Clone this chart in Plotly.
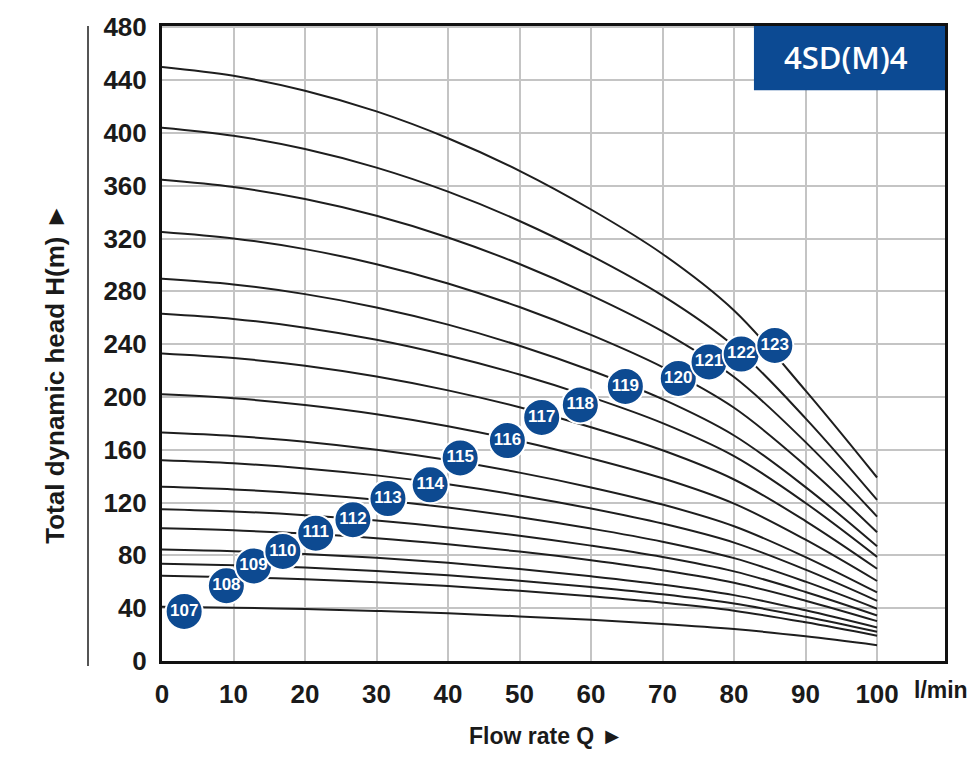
import plotly.graph_objects as go

# ---------------- data ----------------
flow = [0, 10, 20, 30, 40, 50, 60, 70, 80, 90, 100]

curve_names = ["107", "108", "109", "110", "111", "112", "113", "114", "115",
               "116", "117", "118", "119", "120", "121", "122", "123"]

head_107 = [41, 40.4, 39.4, 37.9, 36.1, 33.8, 31.2, 28.1, 24.2, 18.7, 12.0]
head_108 = [64.5, 63.5, 61.9, 59.7, 56.8, 53.2, 49.0, 44.2, 38.1, 29.3, 19.2]
head_109 = [73.7, 72.6, 70.8, 68.2, 64.9, 60.8, 56.0, 50.5, 43.5, 33.5, 22.1]
head_110 = [84.5, 83.2, 81.1, 78.2, 74.4, 69.7, 64.2, 57.9, 49.9, 38.4, 25.4]
head_111 = [100.5, 99.0, 96.5, 93.0, 88.4, 82.9, 76.4, 68.8, 59.3, 45.7, 30.2]
head_112 = [115, 113.3, 110.4, 106.4, 101.2, 94.9, 87.4, 78.8, 67.9, 52.3, 34.5]
head_113 = [132, 130.0, 126.7, 122.1, 116.2, 108.9, 100.3, 90.4, 77.9, 60.1, 39.6]
head_114 = [152, 149.7, 145.9, 140.6, 133.8, 125.4, 115.5, 104.1, 89.7, 69.2, 45.6]
head_115 = [173, 170.4, 166.1, 160.0, 152.2, 142.7, 131.5, 118.5, 102.1, 78.7, 51.9]
head_116 = [202, 199.0, 193.9, 186.9, 177.8, 166.7, 153.5, 138.4, 119.2, 91.9, 60.6]
head_117 = [233, 229.5, 223.7, 215.5, 205.0, 192.2, 177.1, 159.6, 137.5, 106.0, 69.9]
head_118 = [263, 259.1, 252.5, 243.3, 231.4, 217.0, 199.9, 180.2, 155.2, 119.7, 78.9]
head_119 = [289.5, 285.2, 277.9, 267.8, 254.8, 238.8, 220.0, 198.3, 170.8, 131.7, 86.9]
head_120 = [325, 320.1, 312.0, 300.6, 286.0, 268.1, 247.0, 222.6, 191.8, 147.9, 97.5]
head_121 = [364.5, 359.0, 349.9, 337.2, 320.8, 300.7, 277.0, 249.7, 215.1, 165.8, 109.4]
head_122 = [404, 397.9, 387.8, 373.7, 355.5, 333.3, 307.0, 276.7, 238.4, 183.8, 122.0]
head_123 = [450, 443.3, 432.0, 416.3, 396.0, 371.3, 342.0, 308.3, 265.5, 204.8, 139.0]

heads = [head_107, head_108, head_109, head_110, head_111, head_112, head_113,
         head_114, head_115, head_116, head_117, head_118, head_119, head_120,
         head_121, head_122, head_123]

# label badge positions (flow, head)
label_flow = [3.1, 9.0, 12.8, 16.9, 21.5, 26.7, 31.6, 37.5, 41.7, 48.3, 53.1,
              58.5, 64.8, 72.2, 76.5, 81.0, 85.7]
label_head = [37.5, 57, 72, 83, 96.8, 107, 123, 133.5, 153.8, 167, 184.5,
              194, 208, 214, 226.5, 232.5, 239]

x_ticks = [0, 10, 20, 30, 40, 50, 60, 70, 80, 90, 100]
y_ticks = [0, 40, 80, 120, 160, 200, 240, 280, 320, 360, 400, 440, 480]

model_name = "4SD(M)4"

# ---------------- figure ----------------
fig = go.Figure()

for name, h in zip(curve_names, heads):
    fig.add_trace(go.Scatter(
        x=flow, y=h, mode="lines", name=name,
        line=dict(color="#1e1e1e", width=2, shape="spline", smoothing=1.0),
        hoverinfo="skip", showlegend=False,
    ))

fig.add_trace(go.Scatter(
    x=label_flow, y=label_head, mode="markers+text", text=curve_names,
    textposition="middle center",
    textfont=dict(family="Liberation Sans Narrow, Arial Narrow, Arial, sans-serif",
                  size=17, color="white", weight="bold"),
    marker=dict(size=37, color="#0d4a91", line=dict(color="white", width=2)),
    showlegend=False, hoverinfo="skip",
))

tick_font = dict(family="Liberation Sans, Arial, sans-serif", size=26,
                 color="#1a1a1a", weight="bold")

fig.update_xaxes(
    range=[0, 109.5], tickvals=x_ticks, ticktext=[str(v) for v in x_ticks],
    showgrid=True, gridcolor="#c4c4c4", gridwidth=2,
    showline=True, linecolor="#111111", linewidth=3, mirror=True,
    ticks="", tickfont=tick_font, ticklabelstandoff=8, zeroline=False,
)
fig.update_yaxes(
    range=[0, 481], tickvals=y_ticks, ticktext=[str(v) for v in y_ticks],
    showgrid=True, gridcolor="#c4c4c4", gridwidth=2,
    showline=True, linecolor="#111111", linewidth=3, mirror=True,
    ticks="", tickfont=tick_font, ticklabelstandoff=7, zeroline=False,
)

# model badge in top-right corner
fig.add_shape(type="rect", xref="paper", yref="paper",
              x0=0.756, x1=1.0, y0=0.899, y1=1.0,
              fillcolor="#0c4a93", line=dict(width=0), layer="above")
fig.add_annotation(xref="paper", yref="paper", x=0.874, y=0.951,
                   xanchor="center", yanchor="middle",
                   text=model_name, showarrow=False,
                   font=dict(family="Open Sans, sans-serif", size=31, color="white",
                             weight=600))

# page rule at left
fig.add_shape(type="line", xref="paper", yref="paper",
              x0=-0.0945, x1=-0.0945, y0=-0.008, y1=1.0,
              line=dict(color="#555555", width=2))

fig.add_annotation(xref="paper", yref="paper", x=-0.137, y=0.452,
                   xanchor="center", yanchor="middle",
                   text="Total dynamic head H(m) ►", textangle=-90,
                   showarrow=False,
                   font=dict(family="Liberation Sans, Arial, sans-serif", size=26,
                             color="#1a1a1a", weight="bold"))
fig.add_annotation(xref="paper", yref="paper", x=0.49, y=-0.118,
                   xanchor="center", yanchor="middle",
                   text="Flow rate Q ►", showarrow=False,
                   font=dict(family="Liberation Sans, Arial, sans-serif", size=23,
                             color="#1a1a1a", weight="bold"))
fig.add_annotation(xref="paper", yref="paper", x=0.995, y=-0.045,
                   xanchor="center", yanchor="middle", text="l/min", showarrow=False,
                   font=dict(family="Liberation Sans, Arial, sans-serif", size=23,
                             color="#1a1a1a", weight="bold"))

fig.update_layout(
    width=972, height=760,
    margin=dict(l=162, r=27, t=20, b=99),
    paper_bgcolor="white", plot_bgcolor="white",
)

fig.write_html("out.html", post_script="document.body.style.margin='0';",
               config={"displayModeBar": False})
